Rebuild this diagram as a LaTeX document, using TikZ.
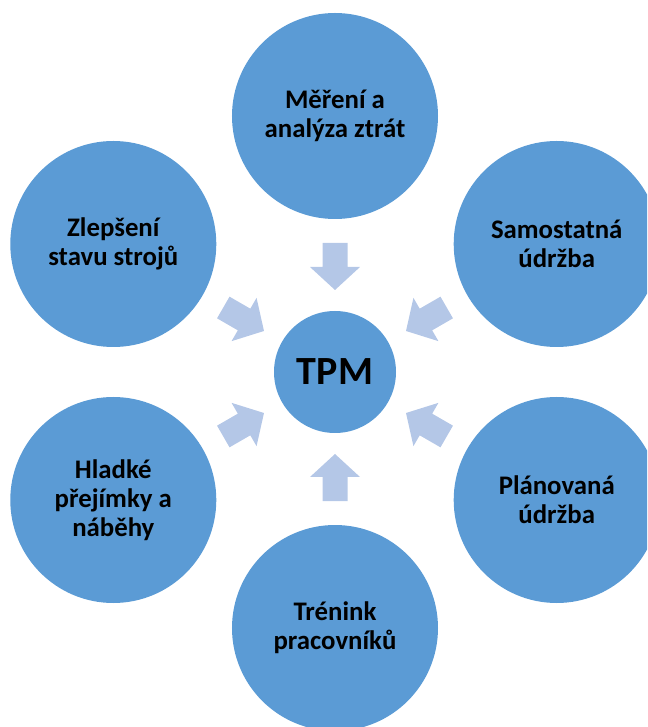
\documentclass[tikz,border=0pt]{standalone}
\usepackage{fontspec}
\setmainfont{Carlito}
\definecolor{tpmblue}{HTML}{5B9BD5}
\definecolor{arrowblue}{HTML}{B4C7E7}
\begin{document}
\begin{tikzpicture}[x=1pt,y=1pt,
  bubble/.style={circle, fill=tpmblue, minimum size=206pt, inner sep=0pt, align=center,
    font=\fontsize{26.8}{29}\selectfont\bfseries},
  hub/.style={circle, fill=tpmblue, minimum size=122pt, inner sep=0pt,
    font=\fontsize{40}{48}\selectfont\bfseries},
  inarrow/.style={fill=arrowblue}]
\clip (-335,-355) rectangle (312,372);
\node[hub] (tpm) at (0,0) {TPM};
\node[bubble] (mereni) at (90:256) {Měření a\\analýza ztrát};
\node[bubble] (samo) at (30:256) {Samostatná\\údržba};
\node[bubble] (plan) at (-30:256) {Plánovaná\\údržba};
\node[bubble] (trenink) at (-90:256) {Trénink\\pracovníků};
\node[bubble] (hladke) at (-150:256) {Hladké\\přejímky a\\náběhy};
\node[bubble] (zlepseni) at (150:256) {Zlepšení\\stavu strojů};
\foreach \a in {90,30,-30,-90,-150,150}{
  \fill[inarrow, shift={(tpm.center)}, rotate=\a]
    (82,0) -- (105,25) -- (105,12.5) -- (129,12.5) -- (129,-12.5)
    -- (105,-12.5) -- (105,-25) -- cycle;
}
\end{tikzpicture}
\end{document}
